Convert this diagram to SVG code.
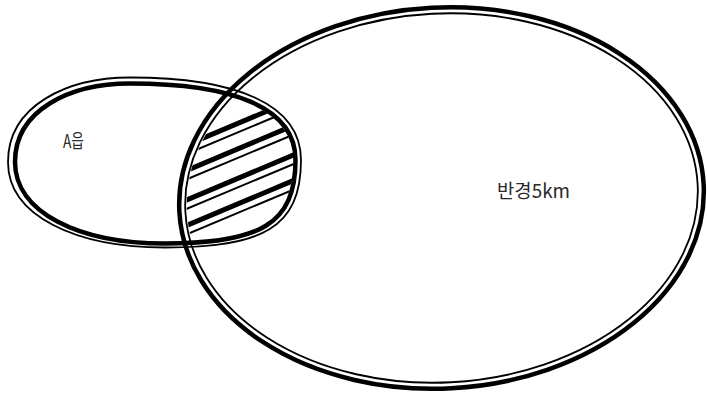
<svg xmlns="http://www.w3.org/2000/svg" width="707" height="395" viewBox="0 0 707 395">
<style>
.thick{fill:none;stroke:#000;stroke-width:4.5}
.thin{fill:none;stroke:#000;stroke-width:1.8}
.hk{stroke:#000;stroke-width:5}
.ht{stroke:#000;stroke-width:2}
.lbl{font-family:"Noto Sans CJK KR","Noto Sans",sans-serif;font-size:19px;fill:#2a2a2a}
</style>
<defs>
<clipPath id="cs"><path d="M17,162 C17,110 72,85.5 130,85.5 C230,85.5 293.5,108 293.5,160 C293.5,222 258,241.5 165,241.5 C80,241.5 17,212 17,162 Z"/></clipPath>
<clipPath id="cb"><ellipse cx="441.5" cy="198" rx="255" ry="183" transform="rotate(-3 441.5 198)"/></clipPath>
</defs>
<g id="hatch" clip-path="url(#cs)">
<g clip-path="url(#cb)">
<line class="hk" x1="170" y1="151.9" x2="310" y2="93.1"/>
<line class="ht" x1="170" y1="160.9" x2="310" y2="102.1"/>
<line class="hk" x1="170" y1="177.4" x2="310" y2="118.6"/>
<line class="ht" x1="170" y1="186.4" x2="310" y2="127.6"/>
<line class="hk" x1="170" y1="206.9" x2="310" y2="148.1"/>
<line class="ht" x1="170" y1="215.9" x2="310" y2="157.1"/>
<line class="hk" x1="170" y1="232.4" x2="310" y2="173.6"/>
<line class="ht" x1="170" y1="241.4" x2="310" y2="182.6"/>
</g>
</g>
<g id="town">
<path class="thin" d="M8,162 C8,105 68,77.5 130,77.5 C236,77.5 301,104 301,160 C301,228 262,247.5 165,247.5 C76,247.5 8,216 8,162 Z"/>
<path class="thick" d="M15,162 C15,110 70,83.5 130,83.5 C232,83.5 295.5,107 295.5,160 C295.5,224 260,243.5 165,243.5 C78,243.5 15,212 15,162 Z"/>
<text class="lbl" x="63" y="148" textLength="21" lengthAdjust="spacingAndGlyphs">A읍</text>
</g>
<g id="radius">
<ellipse class="thick" cx="441.5" cy="198" rx="262.5" ry="190.5" transform="rotate(-3 441.5 198)"/>
<ellipse class="thin" cx="441.5" cy="198" rx="256.5" ry="184.5" transform="rotate(-3 441.5 198)"/>
<text class="lbl" x="497" y="198" textLength="73" lengthAdjust="spacingAndGlyphs">반경5km</text>
</g>
</svg>
